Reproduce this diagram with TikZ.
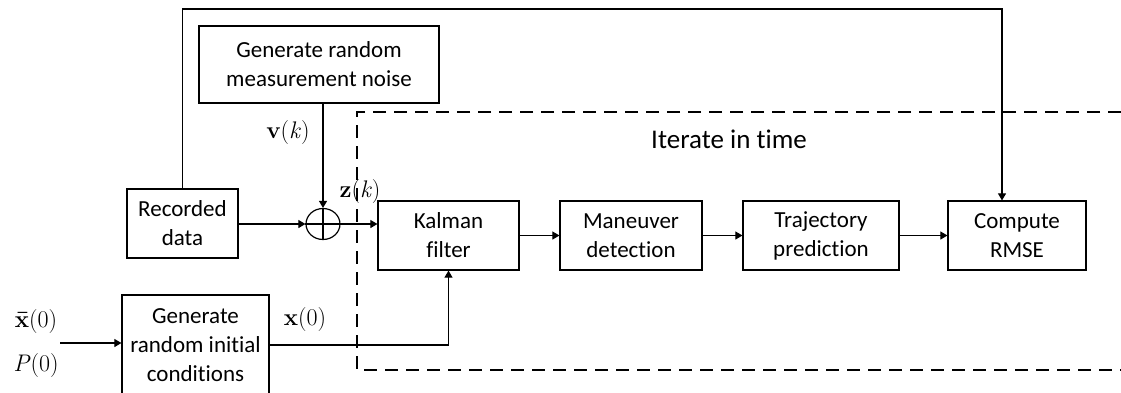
\documentclass[tikz,border=0pt]{standalone}
\usepackage{fontspec}
\setmainfont[Ligatures=NoCommon]{Carlito}
\newfontfamily\lmr{Latin Modern Roman}
\usetikzlibrary{arrows.meta,shapes.geometric}
\begin{document}
\begin{tikzpicture}[x=1pt,y=-1pt,
  blk/.style={draw,line width=1.2pt,align=center,inner sep=0pt,font=\fontsize{23}{29}\selectfont},
  arr/.style={line width=1.1pt,-{Triangle[length=7pt,width=8pt]}},
  ln/.style={line width=1.1pt},
  dsh/.style={line width=1.1pt,dash pattern=on 13pt off 8pt},
  lbl/.style={font=\lmr\fontsize{24}{28}\selectfont,inner sep=0pt}]
\useasboundingbox (0,0) rectangle (1121,392);
% blocks
\node[blk,minimum width=240pt,minimum height=77pt] (noise) at (319,64.5) {Generate random\\measurement noise};
\node[blk,minimum width=111pt,minimum height=69pt] (rec) at (182.5,223.5) {Recorded\\data};
\node[draw,ellipse,line width=1.2pt,minimum width=34pt,minimum height=31pt,inner sep=0pt] (sum) at (323,224) {};
\draw[ln] (sum.north) -- (sum.south) (sum.west) -- (sum.east);
\node[blk,minimum width=141pt,minimum height=69pt] (kf) at (448.5,235.5) {Kalman\\filter};
\node[blk,minimum width=142pt,minimum height=69pt] (md) at (631,235.5) {Maneuver\\detection};
\node[blk,minimum width=156pt,minimum height=69pt] (tp) at (821,235.5) {Trajectory\\prediction};
\node[blk,minimum width=138pt,minimum height=69pt] (rmse) at (1017,235.5) {Compute\\RMSE};
\node[blk,minimum width=147pt,minimum height=100pt] (init) at (195.5,345) {Generate\\random initial\\conditions};
% dashed iteration frame
\draw[dsh] (1121,112) -- (357,112) -- (357,370) -- (1121,370);
\node[font=\fontsize{27}{32}\selectfont,inner sep=0pt] (iter) at (729,139) {Iterate in time};
% labels
\node[lbl] (vk) at (288,133) {\textbf{v}(\textit{k})};
\node[lbl] (zk) at (360,192) {\textbf{z}(\textit{k})};
\node[lbl] (x0) at (305,320) {\textbf{x}(0)};
\node[lbl] (xb) at (36,322) {\textbf{\={x}}(0)};
\node[lbl] (p0) at (36,366) {\textit{P}(0)};
% connectors
\coordinate (ttop) at (183,9);
\coordinate (src) at (60,343);
\draw[arr] (noise.south -| sum.north) -- (sum.north);
\draw[arr] (rec.east |- sum.west) -- (sum.west);
\draw[arr] (sum.east) -- (sum.east -| kf.west);
\draw[arr] (kf.east) -- (md.west);
\draw[arr] (md.east) -- (tp.west);
\draw[arr] (tp.east) -- (rmse.west);
\draw[arr] (rec.north) -- (rec.north |- ttop) -| ([xshift=-15pt]rmse.north);
\draw[arr] (init.east) -| (kf.south);
\draw[arr] (src) -- (src -| init.west);
\end{tikzpicture}
\end{document}
